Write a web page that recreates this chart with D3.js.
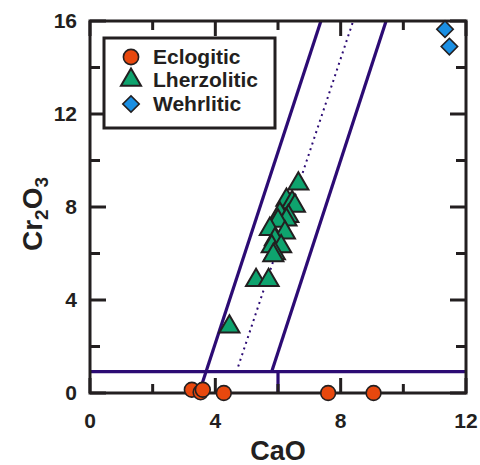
<html>
<head>
<script src="https://cdn.jsdelivr.net/npm/d3@7"></script>
<style>
  body { margin: 0; background: #fff; }
  text { font-family: Arial, "Liberation Sans", sans-serif; font-weight: bold; fill: #231f20; }
</style>
</head>
<body>
<svg id="chart" width="480" height="465"></svg>
<script>
// eclogitic garnets, [CaO, Cr2O3]
const eclogitic = [[3.25, 0.14], [3.53, 0.03], [3.6, 0.14], [4.27, 0], [7.6, 0], [9.05, 0]];
// lherzolitic garnets
const lherzolitic = [
  [6.65, 9.0], [6.27, 8.3], [6.45, 8.2], [6.54, 8.05], [6.06, 7.7], [6.33, 7.6],
  [6.27, 7.45], [6.0, 7.4], [5.74, 7.05], [6.22, 6.9], [5.9, 6.6], [5.8, 6.3],
  [6.1, 6.3], [5.9, 6.0], [5.85, 5.92], [5.3, 4.85], [5.7, 4.85], [4.45, 2.85]
];
// wehrlitic garnets
const wehrlitic = [[11.33, 15.65], [11.47, 14.9]];

// field boundaries
const leftLine = [[3.48, 0], [7.37, 16]];
const rightLine = [[5.8, 0.92], [9.45, 16]];
const midLine = [[4.73, 1.14], [8.4, 16]];
const cutoff = [[0, 0.92], [12, 0.92]];
const cutoffTick = [[6, 0.92], [6, 0]];

const xTicks = [0, 4, 8, 12];
const xMinor = [2, 6, 10];
const yTicks = [0, 4, 8, 12, 16];
const yMinor = [2, 6, 10, 14];
const legendNames = ["Eclogitic", "Lherzolitic", "Wehrlitic"];

const ink = "#231f20";
const purple = "#2c0b74";
const colors = { Eclogitic: "#e8480e", Lherzolitic: "#0ea36e", Wehrlitic: "#1a8fe3" };

const svg = d3.select("#chart");
const pL = 90, pR = 466, pT = 21, pB = 393;
const x = d3.scaleLinear().domain([0, 12]).range([pL, pR]);
const y = d3.scaleLinear().domain([0, 16]).range([pB, pT]);

const line = d3.line().x(d => x(d[0])).y(d => y(d[1]));

// field lines
const lines = svg.append("g").attr("fill", "none").attr("stroke", purple);
[leftLine, rightLine, cutoff, cutoffTick].forEach(l => {
  lines.append("path").attr("d", line(l)).attr("stroke-width", 3.2);
});
lines.append("path").attr("d", line(midLine)).attr("stroke-width", 2)
  .attr("stroke-dasharray", "2,4");

// ticks inward
const ticks = svg.append("g").attr("stroke", ink).attr("stroke-width", 3);
const drawX = (vals, len) => vals.forEach(v => {
  ticks.append("line").attr("x1", x(v)).attr("x2", x(v)).attr("y1", pB).attr("y2", pB - len);
  ticks.append("line").attr("x1", x(v)).attr("x2", x(v)).attr("y1", pT).attr("y2", pT + len);
});
const drawY = (vals, len) => vals.forEach(v => {
  ticks.append("line").attr("y1", y(v)).attr("y2", y(v)).attr("x1", pL).attr("x2", pL + len);
  ticks.append("line").attr("y1", y(v)).attr("y2", y(v)).attr("x1", pR).attr("x2", pR - len);
});
drawX(xTicks, 15); drawX(xMinor, 9);
drawY(yTicks, 16); drawY(yMinor, 10);

// frame
svg.append("rect").attr("x", pL).attr("y", pT)
  .attr("width", pR - pL).attr("height", pB - pT)
  .attr("fill", "none").attr("stroke", ink).attr("stroke-width", 3);

// tick labels
svg.selectAll(".xl").data(xTicks).enter().append("text")
  .attr("x", d => x(d)).attr("y", 428).attr("text-anchor", "middle")
  .attr("font-size", 21).text(d => d);
svg.selectAll(".yl").data(yTicks).enter().append("text")
  .attr("x", 77).attr("y", d => y(d) + 7).attr("text-anchor", "end")
  .attr("font-size", 21).text(d => d);

// axis titles
svg.append("text").attr("x", (pL + pR) / 2).attr("y", 460)
  .attr("text-anchor", "middle").attr("font-size", 27).text("CaO");
const yt = svg.append("text").attr("transform", "translate(42,214) rotate(-90)")
  .attr("text-anchor", "middle").attr("font-size", 28);
yt.append("tspan").text("Cr");
yt.append("tspan").attr("font-size", 19).attr("dy", 6).text("2");
yt.append("tspan").attr("dy", -6).text("O");
yt.append("tspan").attr("font-size", 19).attr("dy", 6).text("3");

// symbols
const tri = d3.symbol().type(d3.symbolTriangle).size(175);
const sq = d3.symbol().type(d3.symbolSquare).size(135);

svg.append("g").selectAll("path").data(lherzolitic).enter().append("path")
  .attr("d", tri).attr("transform", d => `translate(${x(d[0])},${y(d[1])})`)
  .attr("fill", colors.Lherzolitic).attr("stroke", ink).attr("stroke-width", 2)
  .attr("stroke-linejoin", "miter");
svg.append("g").selectAll("path").data(wehrlitic).enter().append("path")
  .attr("d", sq).attr("transform", d => `translate(${x(d[0])},${y(d[1])}) rotate(45)`)
  .attr("fill", colors.Wehrlitic).attr("stroke", ink).attr("stroke-width", 1.6);
svg.append("g").selectAll("circle").data(eclogitic).enter().append("circle")
  .attr("cx", d => x(d[0])).attr("cy", d => y(d[1])).attr("r", 7.4)
  .attr("fill", colors.Eclogitic).attr("stroke", ink).attr("stroke-width", 1.6);

// legend
const lg = svg.append("g");
lg.append("rect").attr("x", 104).attr("y", 38).attr("width", 171).attr("height", 90)
  .attr("fill", "#fff").attr("stroke", ink).attr("stroke-width", 3);
const rows = [57, 80, 104];
legendNames.forEach((name, i) => {
  const cy = rows[i];
  if (name === "Eclogitic") {
    lg.append("circle").attr("cx", 131).attr("cy", cy).attr("r", 7.6)
      .attr("fill", colors[name]).attr("stroke", ink).attr("stroke-width", 1.6);
  } else if (name === "Lherzolitic") {
    lg.append("path").attr("d", tri).attr("transform", `translate(131,${cy})`)
      .attr("fill", colors[name]).attr("stroke", ink).attr("stroke-width", 2);
  } else {
    lg.append("path").attr("d", sq).attr("transform", `translate(131,${cy}) rotate(45)`)
      .attr("fill", colors[name]).attr("stroke", ink).attr("stroke-width", 1.6);
  }
  lg.append("text").attr("x", 153).attr("y", cy + 7).attr("font-size", 21).text(name);
});
</script>
</body>
</html>
